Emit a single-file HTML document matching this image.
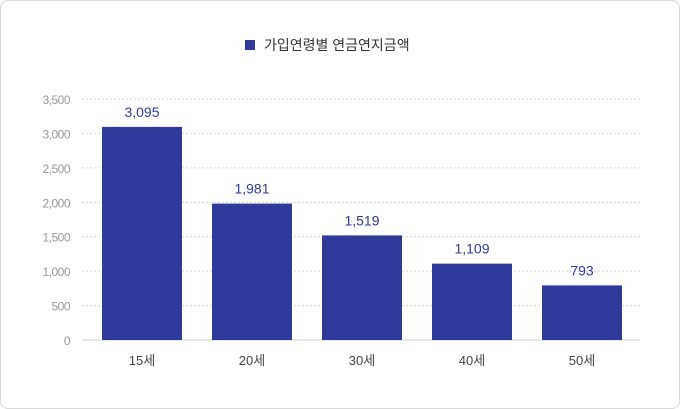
<!DOCTYPE html>
<html><head><meta charset="utf-8"><style>
body{margin:0;width:680px;height:409px;background:#fff;overflow:hidden}
#wrap{position:absolute;left:0;top:0;width:678px;height:407px;border:1px solid #d9d9d9;border-radius:8px;background:#fff}
svg{position:absolute;left:0;top:0}
text{font-family:"Liberation Sans","Noto Sans CJK KR",sans-serif}
</style></head><body>
<div id="wrap"></div>
<svg id="c" width="680" height="409">
<rect x="245" y="40" width="10" height="10" fill="#2f3a9a"/>
<text x="264" y="50" font-size="14" fill="#333">가입연령별 연금연지금액</text>
</svg>
<script>
const categories=["15세","20세","30세","40세","50세"];
const values=[3095,1981,1519,1109,793];
const valueLabels=["3,095","1,981","1,519","1,109","793"];
const ticks=[0,500,1000,1500,2000,2500,3000,3500];
const tickLabels=["0","500","1,000","1,500","2,000","2,500","3,000","3,500"];
const svg=document.getElementById('c');const NS="http://www.w3.org/2000/svg";
const y0=340,yTop=99,yMax=3500,xL=87,band=110,barW=80;
const y=v=>y0-(v/yMax)*(y0-yTop);
const x=i=>xL+band*i+(band-barW)/2;
function mk(t,a,txt){const e=document.createElementNS(NS,t);for(const k in a)e.setAttribute(k,a[k]);if(txt!=null)e.textContent=txt;svg.appendChild(e);return e;}
ticks.forEach((t,i)=>{
 const g=mk('line',{x1:82,x2:640,y1:y(t),y2:y(t),stroke:i==0?'#ccc':'#d6d6d6','stroke-dasharray':i==0?'':'2,2'});
 
 
 const l=mk('text',{x:70,y:y(t)+5,'text-anchor':'end','font-size':'12',fill:'#999','letter-spacing':'-0.5'},tickLabels[i]);
 
 
});
categories.forEach((c,i)=>{
 const b=mk('rect',{x:x(i),y:y(values[i]),width:barW,height:y0-y(values[i]),fill:'#2f3a9a'});
 
 
 const v=mk('text',{x:x(i)+barW/2,y:y(values[i])-10,'text-anchor':'middle','font-size':'14',fill:'#2f3a9a'},valueLabels[i]);
 
 
 const t=mk('text',{x:x(i)+barW/2,y:365,'text-anchor':'middle','font-size':'13',fill:'#444'},c);
 
 
});
</script>
</body></html>
